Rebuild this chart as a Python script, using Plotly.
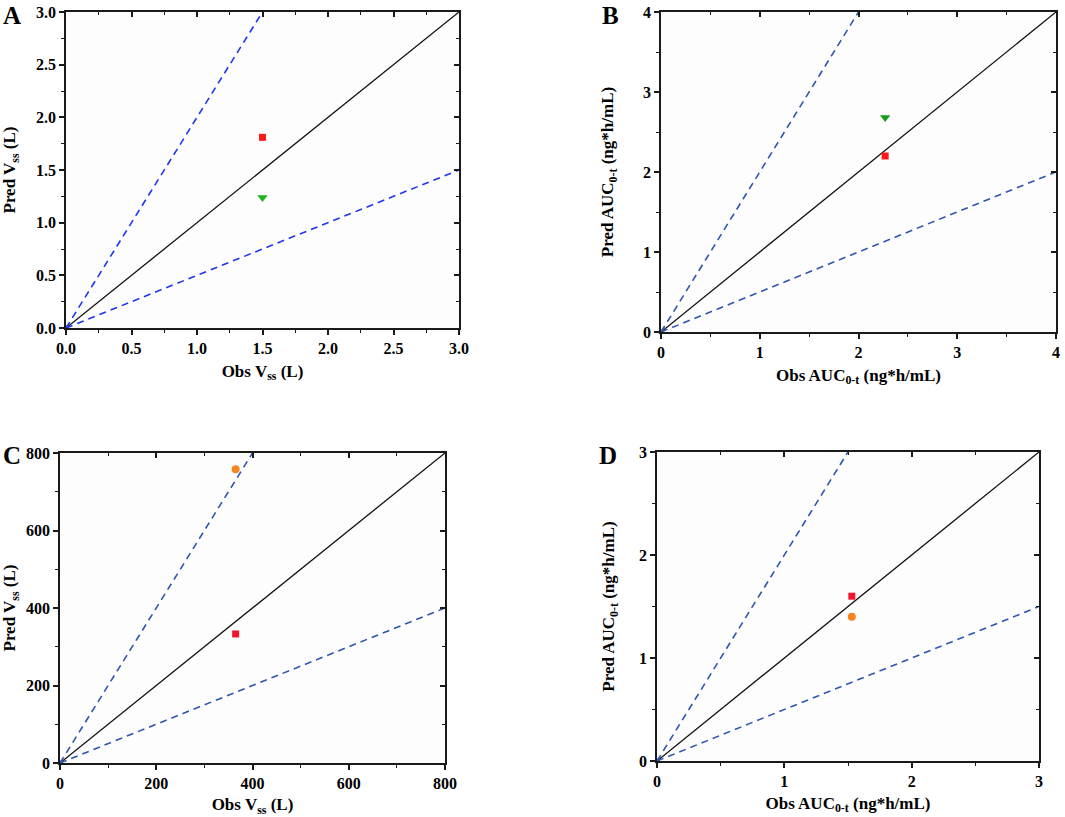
import plotly.graph_objects as go

# ---- data ----
panel_letters = ["A", "B", "C", "D"]
axis_max = [3.0, 4.0, 800.0, 3.0]
major_dtick = [0.5, 1.0, 200.0, 1.0]
minor_dtick = [0.25, 0.5, 100.0, 0.5]
tick_format = [".1f", "d", "d", ".0f"]
x_titles = ["Obs V<sub>ss</sub> (L)", "Obs AUC<sub>0-t</sub> (ng*h/mL)",
            "Obs V<sub>ss</sub> (L)", "Obs AUC<sub>0-t</sub> (ng*h/mL)"]
y_titles = ["Pred V<sub>ss</sub> (L)", "Pred AUC<sub>0-t</sub> (ng*h/mL)",
            "Pred V<sub>ss</sub> (L)", "Pred AUC<sub>0-t</sub> (ng*h/mL)"]

# points per panel
obs_A = [1.50, 1.50]
pred_A = [1.81, 1.24]
obs_B = [2.27, 2.27]
pred_B = [2.20, 2.68]
obs_C = [365, 365]
pred_C = [333, 758]
obs_D = [1.53, 1.53]
pred_D = [1.60, 1.40]
symbols_A = ["square", "triangle-down"]
colors_A = ["#ff1a1a", "#1fb31f"]
symbols_B = ["square", "triangle-down"]
colors_B = ["#ff1a1a", "#169b16"]
symbols_C = ["square", "circle"]
colors_C = ["#f0152b", "#f5861f"]
symbols_D = ["square", "circle"]
colors_D = ["#f0152b", "#f5861f"]

fold_factors = [2.0, 0.5]
dash_colors = ["#1f35f0", "#2f55b0", "#2f55b0", "#2f55b0"]

obs_all = [obs_A, obs_B, obs_C, obs_D]
pred_all = [pred_A, pred_B, pred_C, pred_D]
sym_all = [symbols_A, symbols_B, symbols_C, symbols_D]
col_all = [colors_A, colors_B, colors_C, colors_D]

# ---- layout geometry (pixels of 1065x817 canvas) ----
W, H = 1065, 817
boxes = [  # left, right, top, bottom
    (66, 459, 12, 328),
    (661, 1056, 12, 332),
    (60, 445, 453, 763),
    (657, 1039, 452, 761),
]
ytitle_standoff = [16, 25, 9, 20]
xtitle_standoff = [9, 9, 8, 8]
letter_pos = [(12, 16), (610, 16), (12, 455), (608, 455)]

FONT = "Liberation Serif"
AX = "#1a1a1a"

fig = go.Figure()
layout = dict(
    width=W, height=H, margin=dict(l=0, r=0, t=0, b=0),
    paper_bgcolor="white", plot_bgcolor="#fdfdfd", showlegend=False,
    font=dict(family=FONT, color="black"),
)
annotations = []

for i in range(4):
    n = i + 1
    l, r, t, b = boxes[i]
    xd = [l / W, r / W]
    yd = [1 - b / H, 1 - t / H]
    m = axis_max[i]
    xa, ya = f"x{n if n > 1 else ''}", f"y{n if n > 1 else ''}"
    xk, yk = f"xaxis{n if n > 1 else ''}", f"yaxis{n if n > 1 else ''}"

    common = dict(
        range=[0, m], dtick=major_dtick[i], tick0=0, tickformat=tick_format[i],
        showgrid=False, zeroline=False, showline=True, linecolor=AX, linewidth=1.5,
        mirror=True, ticks="outside", ticklen=5, tickwidth=1.5, tickcolor=AX,
        tickfont=dict(family=FONT, size=16, color="black", weight="bold"),
        minor=dict(dtick=minor_dtick[i], tick0=0, ticks="outside", ticklen=3,
                   tickwidth=1.2, tickcolor=AX, showgrid=False),
        automargin=False, fixedrange=True,
    )
    layout[xk] = dict(common, domain=xd, anchor=ya,
                      title=dict(text=x_titles[i], standoff=xtitle_standoff[i],
                                 font=dict(family=FONT, size=17, weight="bold")))
    layout[yk] = dict(common, domain=yd, anchor=xa,
                      title=dict(text=y_titles[i], standoff=ytitle_standoff[i],
                                 font=dict(family=FONT, size=17, weight="bold")))

    # mirrored axes with inward ticks (top / right)
    on = n + 4
    mirror_common = dict(
        range=[0, m], dtick=major_dtick[i], tick0=0, showgrid=False, zeroline=False,
        showline=False, ticks="inside", ticklen=5, tickwidth=1.5, tickcolor=AX,
        showticklabels=False,
        minor=dict(dtick=minor_dtick[i], tick0=0, ticks="inside", ticklen=3,
                   tickwidth=1.2, tickcolor=AX, showgrid=False),
        automargin=False, fixedrange=True,
    )
    layout[f"xaxis{on}"] = dict(mirror_common, overlaying=xa, side="top",
                                anchor=f"y{on}", domain=xd)
    layout[f"yaxis{on}"] = dict(mirror_common, overlaying=ya, side="right",
                                anchor=f"x{on}", domain=yd)
    fig.add_trace(go.Scatter(x=[0], y=[0], xaxis=f"x{on}", yaxis=f"y{on}",
                             mode="markers", marker=dict(size=1, opacity=0),
                             hoverinfo="skip"))

    # unity line
    fig.add_trace(go.Scatter(x=[0, m], y=[0, m], xaxis=xa, yaxis=ya, mode="lines",
                             line=dict(color="#111111", width=1.3), hoverinfo="skip"))
    # 2-fold lines
    for f in fold_factors:
        xe = m / f if f > 1 else m
        fig.add_trace(go.Scatter(x=[0, xe], y=[0, xe * f], xaxis=xa, yaxis=ya,
                                 mode="lines",
                                 line=dict(color=dash_colors[i], width=1.6, dash="7px,5px"),
                                 hoverinfo="skip"))
    # origin dot
    fig.add_trace(go.Scatter(x=[0], y=[0], xaxis=xa, yaxis=ya, mode="markers",
                             marker=dict(color=dash_colors[i], size=5), cliponaxis=False,
                             hoverinfo="skip"))
    # data points
    for ox, py, s, c in zip(obs_all[i], pred_all[i], sym_all[i], col_all[i]):
        size = 8 if s != "square" else 7
        if s == "triangle-down":
            size = 9
        fig.add_trace(go.Scatter(x=[ox], y=[py], xaxis=xa, yaxis=ya, mode="markers",
                                 marker=dict(symbol=s, color=c, size=size, line=dict(width=0)),
                                 cliponaxis=False))

    lx, ly = letter_pos[i]
    annotations.append(dict(text=f"<b>{panel_letters[i]}</b>", x=lx / W, y=1 - ly / H,
                            xref="paper", yref="paper", showarrow=False,
                            font=dict(family=FONT, size=25, color="black"),
                            xanchor="center", yanchor="middle"))

layout["annotations"] = annotations
fig.update_layout(**layout)
fig.write_html(
    "out.html",
    config={"displayModeBar": False},
    post_script="document.body.style.margin='0';document.body.style.overflow='hidden';",
)
